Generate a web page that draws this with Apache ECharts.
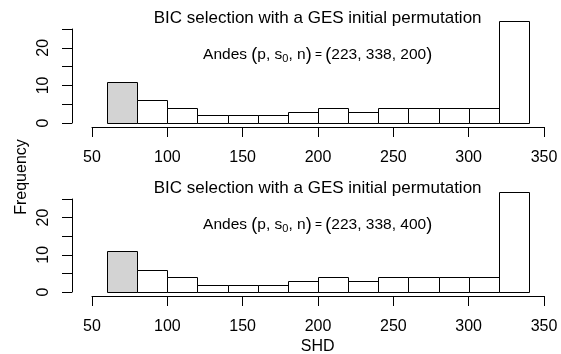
<!DOCTYPE html>
<html>
<head>
<meta charset="utf-8">
<script src="https://cdn.jsdelivr.net/npm/echarts@6/dist/echarts.min.js"></script>
<style>
  html, body { margin: 0; padding: 0; background: #fff; }
  #chart { width: 561px; height: 354px; }
</style>
</head>
<body>
<div id="chart"></div>
<script>
// histogram bins (SHD) and counts for both panels
const binStarts = [60, 80, 100, 120, 140, 160, 180, 200, 220, 240, 260, 280, 300, 320];
const binWidth = 20;
const countsN200 = [11, 6, 4, 2, 2, 2, 3, 4, 3, 4, 4, 4, 4, 27];
const countsN400 = [11, 6, 4, 2, 2, 2, 3, 4, 3, 4, 4, 4, 4, 27];
const xTicks = [50, 100, 150, 200, 250, 300, 350];
const yTicks = [0, 5, 10, 15, 20, 25];
const yLabels = [0, 10, 20];
const panelTitle = 'BIC selection with a GES initial permutation';
const sampleSizes = [200, 400];
const highlightBin = 0; // grey bar

const FONT = '"Liberation Sans", Arial, Helvetica, sans-serif';
const chart = echarts.init(document.getElementById('chart'));

function histData(counts) {
  return binStarts.map((s, i) => [s, s + binWidth, counts[i]]);
}

function renderBar(params, api) {
  const p0 = api.coord([api.value(0), 0]);
  const p1 = api.coord([api.value(1), api.value(2)]);
  const x0 = Math.round(p0[0]) + 0.5, x1 = Math.round(p1[0]) + 0.5;
  const y0 = Math.round(p0[1]) + 0.5, y1 = Math.round(p1[1]) + 0.5;
  return {
    type: 'rect',
    shape: { x: x0, y: y1, width: x1 - x0, height: y0 - y1 },
    style: {
      fill: params.dataIndex === highlightBin ? '#d3d3d3' : '#ffffff',
      stroke: '#000',
      lineWidth: 1
    }
  };
}

const grids = [
  { left: 92, right: 17, top: 29, bottom: 231 },
  { left: 92, right: 17, top: 199, bottom: 62 }
];

const xAxes = grids.map((g, i) => ({
  type: 'value', gridIndex: i, min: 50, max: 350, interval: 50,
  offset: 4,
  axisLine: { onZero: false, lineStyle: { color: '#000', width: 1 } },
  axisTick: { length: 10, lineStyle: { color: '#000' } },
  axisLabel: { color: '#000', fontFamily: FONT, fontSize: 16, margin: 23,
    showMinLabel: true, showMaxLabel: true },
  splitLine: { show: false }
}));

const yAxes = grids.map((g, i) => ({
  type: 'value', gridIndex: i, min: 0, max: 25, interval: 5,
  offset: 20,
  axisLine: { show: true, lineStyle: { color: '#000', width: 1 } },
  axisTick: { show: true, length: 10, lineStyle: { color: '#000' } },
  axisLabel: {
    color: '#000', fontFamily: FONT, fontSize: 16, rotate: 90, margin: 20,
    formatter: v => (yLabels.indexOf(v) >= 0 ? String(v) : '')
  },
  splitLine: { show: false }
}));

const titleY = [18, 188];
const subY = [55, 225];
const graphics = [];
sampleSizes.forEach((n, i) => {
  graphics.push({
    type: 'text', x: 317.6, y: titleY[i],
    style: { text: panelTitle, font: '17px ' + FONT, fill: '#000',
      align: 'center', verticalAlign: 'middle', textAlign: 'center', textVerticalAlign: 'middle' }
  });
  graphics.push({
    type: 'text', x: 317.6, y: subY[i],
    style: {
      text: 'Andes {b|(}p, s{sub|0}, n{b|)}{e| = }{b|(}223, 338, ' + n + '{b|)}',
      font: '15.5px ' + FONT, fill: '#000',
      align: 'center', verticalAlign: 'middle', textAlign: 'center', textVerticalAlign: 'middle',
      rich: {
        b: { fontSize: 18, fontFamily: FONT, fill: '#000' },
        e: { fontSize: 12, fontFamily: FONT, fill: '#000' },
        sub: { fontSize: 11, fontFamily: FONT, fill: '#000', padding: [8, 0, 0, 0] }
      }
    }
  });
});
graphics.push({
  type: 'text', x: 22, y: 177, rotation: Math.PI / 2,
  style: { text: 'Frequency', font: '16px ' + FONT, fill: '#000',
    align: 'center', verticalAlign: 'middle', textAlign: 'center', textVerticalAlign: 'middle' }
});
graphics.push({
  type: 'text', x: 317.7, y: 347,
  style: { text: 'SHD', font: '16px ' + FONT, fill: '#000',
    align: 'center', verticalAlign: 'middle', textAlign: 'center', textVerticalAlign: 'middle' }
});

chart.setOption({
  animation: false,
  backgroundColor: '#fff',
  grid: grids,
  xAxis: xAxes,
  yAxis: yAxes,
  graphic: graphics,
  series: [countsN200, countsN400].map((c, i) => ({
    type: 'custom', xAxisIndex: i, yAxisIndex: i, clip: false,
    renderItem: renderBar, data: histData(c)
  }))
});
</script>
</body>
</html>
